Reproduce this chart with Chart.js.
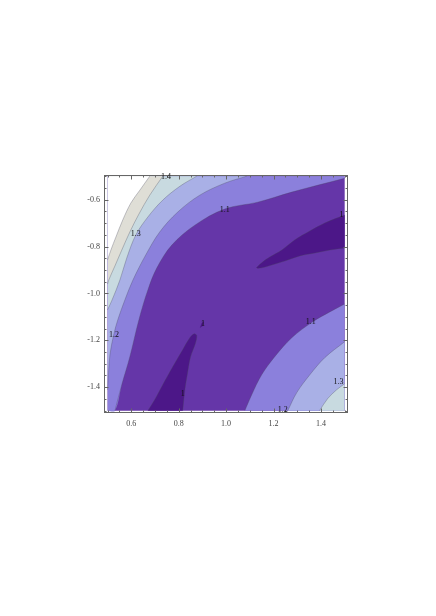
<!DOCTYPE html>
<html>
<head>
<meta charset="utf-8">
<script src="https://cdn.jsdelivr.net/npm/chart.js@4.4.0/dist/chart.umd.min.js"></script>
<style>
  html, body { margin: 0; padding: 0; background: #fff; }
  #wrap { width: 436px; height: 616px; }
</style>
</head>
<body>
<div id="wrap"><canvas id="contour" width="436" height="616"></canvas></div>
<script>
// tick labels
const xTicks = [0.6, 0.8, 1.0, 1.2, 1.4];
const yTicks = [-1.4, -1.2, -1.0, -0.8, -0.6];

// plot domain
const domX = [0.5, 1.5];
const domY = [-1.5, -0.5];

// contour curves, [x, y], left to right
const c11Upper = [[0.531,-1.5],[0.560,-1.389],[0.594,-1.270],[0.632,-1.113],[0.670,-0.985],[0.708,-0.891],[0.771,-0.794],[0.868,-0.709],[0.994,-0.64],[1.133,-0.611],[1.277,-0.568],[1.5,-0.509]];
const c12Upper = [[0.5,-1.411],[0.510,-1.262],[0.527,-1.172],[0.543,-1.113],[0.573,-1.028],[0.607,-0.943],[0.661,-0.836],[0.720,-0.738],[0.796,-0.653],[0.889,-0.581],[0.994,-0.53],[1.087,-0.5]];
const c13Upper = [[0.5,-1.07],[0.519,-1.028],[0.552,-0.943],[0.581,-0.849],[0.619,-0.751],[0.670,-0.674],[0.733,-0.602],[0.805,-0.543],[0.876,-0.5]];
const c14Upper = [[0.5,-0.96],[0.505,-0.943],[0.531,-0.883],[0.560,-0.815],[0.594,-0.738],[0.632,-0.662],[0.678,-0.581],[0.733,-0.5]];
const c15Upper = [[0.5,-0.857],[0.514,-0.815],[0.535,-0.76],[0.564,-0.687],[0.598,-0.615],[0.636,-0.56],[0.678,-0.5]];

const c11Lower = [[1.079,-1.5],[1.108,-1.432],[1.150,-1.347],[1.205,-1.270],[1.277,-1.189],[1.365,-1.121],[1.437,-1.079],[1.5,-1.045]];
const c12Lower = [[1.260,-1.5],[1.298,-1.423],[1.353,-1.347],[1.416,-1.274],[1.5,-1.206]];
const c13Lower = [[1.394,-1.5],[1.428,-1.449],[1.466,-1.411],[1.5,-1.385]];

// regions below 1
const blobLeft = [[0.670,-1.5],[0.699,-1.453],[0.733,-1.389],[0.775,-1.313],[0.817,-1.240],[0.847,-1.189],[0.866,-1.172],[0.876,-1.180],[0.870,-1.215],[0.850,-1.270],[0.836,-1.347],[0.826,-1.411],[0.817,-1.5]];
const blobSpeck = [[0.889,-1.147],[0.897,-1.126],[0.906,-1.121],[0.902,-1.138],[0.889,-1.147]];
const blobRight = [[1.5,-0.666],[1.416,-0.700],[1.353,-0.734],[1.289,-0.772],[1.235,-0.815],[1.184,-0.845],[1.154,-0.866],[1.129,-0.891],[1.150,-0.891],[1.192,-0.879],[1.247,-0.862],[1.310,-0.840],[1.374,-0.828],[1.437,-0.815],[1.5,-0.806]];

// contour labels: text, x, y
const contourLabels = [
  ['1.4', 0.746, -0.504], ['1.3', 0.619, -0.747], ['1.2', 0.527, -1.177],
  ['1.1', 0.994, -0.645], ['1', 1.487, -0.666], ['1', 0.902, -1.130],
  ['1', 0.817, -1.428], ['1.1', 1.357, -1.121], ['1.3', 1.474, -1.377],
  ['1.2', 1.239, -1.496]
];

const colors = {
  below1: '#4c1788',
  l10: '#6536a8',
  l11: '#8b80dc',
  l12: '#a9b0e6',
  l13: '#c8dae0',
  l14: '#dfded6',
  l15: '#ffffff'
};
const lineColor = 'rgba(70,70,90,0.45)';
const smooth = 0.35;

const toPts = arr => arr.map(p => ({ x: p[0], y: p[1] }));

function shape(points, color, tension) {
  return { data: toPts(points), showLine: true, fill: 'shape', backgroundColor: color,
    borderWidth: 0, pointRadius: 0, tension };
}
function band(points, color, toY) {
  return { data: toPts(points), showLine: true, fill: { value: toY }, backgroundColor: color,
    borderWidth: 0, pointRadius: 0, tension: smooth };
}
function contour(points) {
  return { data: toPts(points), showLine: true, fill: false, borderColor: lineColor,
    borderWidth: 0.7, pointRadius: 0, tension: smooth };
}

// listed bottom to top
const datasets = [
  shape([[domX[0], domY[0]], [domX[0], domY[1]], [domX[1], domY[1]], [domX[1], domY[0]]], colors.l10, 0),
  band([[domX[0], domY[0]]].concat(c11Upper), colors.l11, domY[1]),
  band(c12Upper, colors.l12, domY[1]),
  band(c13Upper, colors.l13, domY[1]),
  band(c14Upper, colors.l14, domY[1]),
  band(c15Upper, colors.l15, domY[1]),
  band(c11Lower, colors.l11, domY[0]),
  band(c12Lower, colors.l12, domY[0]),
  band(c13Lower, colors.l13, domY[0]),
  shape(blobLeft, colors.below1, smooth),
  shape(blobRight, colors.below1, smooth),
  shape(blobSpeck, colors.below1, 0),
  contour(c11Upper), contour(c12Upper), contour(c13Upper), contour(c14Upper), contour(c15Upper),
  contour(c11Lower), contour(c12Lower), contour(c13Lower),
  contour(blobLeft), contour(blobRight)
];
datasets.forEach((d, i) => { d.order = datasets.length - i; });

const serif = '"Liberation Serif", "DejaVu Serif", serif';

// frame with inward ticks on all four sides, plus contour labels
const framePlugin = {
  id: 'frame',
  afterDraw(chart) {
    const { ctx, chartArea: a, scales: { x, y } } = chart;
    ctx.save();
    ctx.strokeStyle = '#666';
    ctx.lineWidth = 1;
    const L = Math.round(a.left) + 0.5, R = Math.round(a.right) - 0.5;
    const T = Math.round(a.top) + 0.5, B = Math.round(a.bottom) - 0.5;
    ctx.strokeRect(L, T, R - L, B - T);
    ctx.beginPath();
    for (let k = 10; k <= 30; k++) {
      const len = k % 4 === 0 ? 4 : 2;
      const px = Math.round(x.getPixelForValue(k * 0.05)) + 0.5;
      ctx.moveTo(px, B); ctx.lineTo(px, B - len);
      ctx.moveTo(px, T); ctx.lineTo(px, T + len);
      const py = Math.round(y.getPixelForValue(-k * 0.05)) + 0.5;
      ctx.moveTo(L, py); ctx.lineTo(L + len, py);
      ctx.moveTo(R, py); ctx.lineTo(R - len, py);
    }
    ctx.stroke();

    ctx.fillStyle = '#111';
    ctx.font = '8px ' + serif;
    ctx.textAlign = 'center';
    ctx.textBaseline = 'middle';
    contourLabels.forEach(([t, vx, vy]) => {
      ctx.fillText(t, x.getPixelForValue(vx), y.getPixelForValue(vy));
    });
    ctx.restore();
  }
};

new Chart(document.getElementById('contour'), {
  type: 'scatter',
  data: { datasets },
  options: {
    responsive: false,
    animation: false,
    layout: { padding: { left: 74, right: 88, top: 175, bottom: 183 } },
    plugins: { legend: { display: false }, tooltip: { enabled: false }, title: { display: false } },
    scales: {
      x: {
        type: 'linear', min: 0.485, max: 1.514,
        afterBuildTicks: s => { s.ticks = xTicks.map(v => ({ value: v })); },
        afterFit: s => { s.height = 20; },
        grid: { display: false, drawTicks: false },
        border: { display: false },
        ticks: { padding: 6, color: '#444', font: { family: serif, size: 8 },
          callback: v => v.toFixed(1) }
      },
      y: {
        type: 'linear', min: -1.51, max: -0.495,
        afterBuildTicks: s => { s.ticks = yTicks.map(v => ({ value: v })); },
        afterFit: s => { s.width = 30; },
        grid: { display: false, drawTicks: false },
        border: { display: false },
        ticks: { padding: 4, color: '#444', font: { family: serif, size: 8 },
          callback: v => v.toFixed(1) }
      }
    }
  },
  plugins: [framePlugin]
});
</script>
</body>
</html>
